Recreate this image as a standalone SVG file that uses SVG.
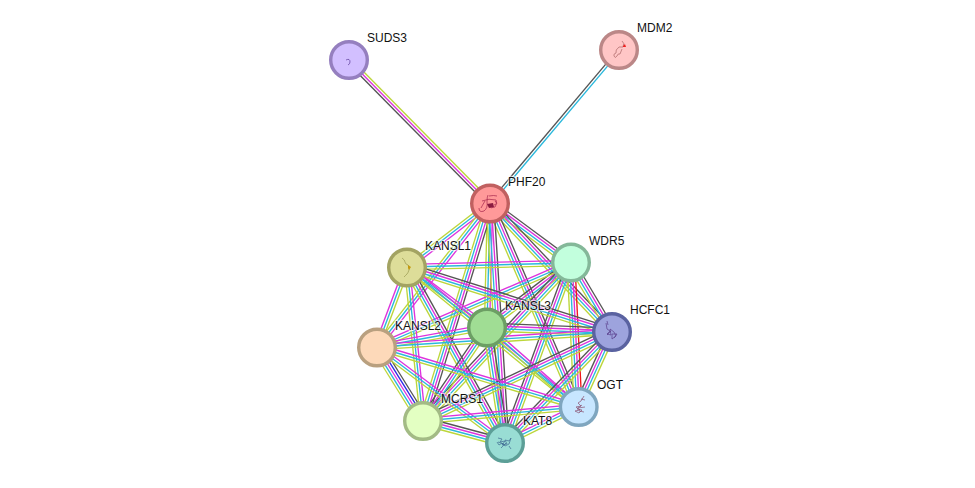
<svg xmlns="http://www.w3.org/2000/svg" xmlns:xlink="http://www.w3.org/1999/xlink" width="975" height="488" viewBox="0 0 975 488">
<style>
.k{stroke:#555}.m{stroke:#dd33dd}.c{stroke:#2ab8dc}.o{stroke:#bcd63a}.r{stroke:#f01818}.b{stroke:#2a2ae8}
line{stroke-width:1.35;fill:none}
circle{stroke-width:3.4}
text{font-family:"Liberation Sans",Arial,sans-serif;font-size:12px;fill:#111;stroke:#fff;stroke-width:2.5px;stroke-opacity:.6;paint-order:stroke;stroke-linejoin:round}
.g{fill:none;stroke-width:.7}
</style>
<defs>
<g id="a3"><line class="m" x1="0" y1="-2.6" x2="1" y2="-2.6"/><line class="c" x1="0" y1="0" x2="1" y2="0"/><line class="o" x1="0" y1="2.6" x2="1" y2="2.6"/></g>
<g id="a4"><line class="k" x1="0" y1="-3.9" x2="1" y2="-3.9"/><line class="m" x1="0" y1="-1.3" x2="1" y2="-1.3"/><line class="c" x1="0" y1="1.3" x2="1" y2="1.3"/><line class="o" x1="0" y1="3.9" x2="1" y2="3.9"/></g>
<g id="a5"><line class="k" x1="0" y1="-5.2" x2="1" y2="-5.2"/><line class="b" x1="0" y1="-2.6" x2="1" y2="-2.6"/><line class="m" x1="0" y1="0" x2="1" y2="0"/><line class="c" x1="0" y1="2.6" x2="1" y2="2.6"/><line class="o" x1="0" y1="5.2" x2="1" y2="5.2"/></g>
<g id="ar"><line class="r" x1="0" y1="-3.9" x2="1" y2="-3.9"/><line class="m" x1="0" y1="-1.3" x2="1" y2="-1.3"/><line class="c" x1="0" y1="1.3" x2="1" y2="1.3"/><line class="o" x1="0" y1="3.9" x2="1" y2="3.9"/></g>
<g id="ak"><line class="k" x1="0" y1="-2.6" x2="1" y2="-2.6"/><line class="m" x1="0" y1="0" x2="1" y2="0"/><line class="o" x1="0" y1="2.6" x2="1" y2="2.6"/></g>
<g id="ad"><line class="k" x1="0" y1="-1.3" x2="1" y2="-1.3"/><line class="c" x1="0" y1="1.3" x2="1" y2="1.3"/></g>
</defs>
<g id="connectors">
<use href="#ak" transform="matrix(-141 -143 .712 -.702 490 203.5)"/>
<use href="#ad" transform="matrix(129 -153 .765 .645 490 203.5)"/>
<use href="#a4" transform="matrix(81 60 -.595 .804 490 203.5)"/>
<use href="#a3" transform="matrix(-83 64 -.611 -.792 490 203.5)"/>
<use href="#a3" transform="matrix(-3 124 -1 -.024 490 203.5)"/>
<use href="#a4" transform="matrix(122 129 -.726 .687 490 203.5)"/>
<use href="#a3" transform="matrix(-113 144 -.787 -.617 490 203.5)"/>
<use href="#a4" transform="matrix(88 204 -.918 .396 490 203.5)"/>
<use href="#a4" transform="matrix(-67 218 -.956 -.294 490 203.5)"/>
<use href="#a4" transform="matrix(15 240 -.998 .062 490 203.5)"/>
<use href="#a3" transform="matrix(164 -4 .024 1 407 267)"/>
<use href="#a4" transform="matrix(84 -64 .606 .795 487 327)"/>
<use href="#a4" transform="matrix(41 69 -.859 .511 571 263)"/>
<use href="#a3" transform="matrix(194 -84 .397 .918 377 347)"/>
<use href="#ar" transform="matrix(7 144 -.999 .049 571 263)"/>
<use href="#a4" transform="matrix(148 -158 .73 .684 423 421)"/>
<use href="#a4" transform="matrix(66 -180 .939 .344 505 443)"/>
<use href="#a3" transform="matrix(80 60 -.6 .8 407 267)"/>
<use href="#a4" transform="matrix(205 65 -.302 .952 407 267)"/>
<use href="#a3" transform="matrix(30 -80 .937 .351 377 347)"/>
<use href="#a3" transform="matrix(171 140 -.633 .774 407 267)"/>
<use href="#a3" transform="matrix(16 154 -.995 .103 407 267)"/>
<use href="#a4" transform="matrix(98 176 -.874 .487 407 267)"/>
<use href="#a4" transform="matrix(125 5 -.04 .999 487 327)"/>
<use href="#a3" transform="matrix(110 -20 .179 .984 377 347)"/>
<use href="#a3" transform="matrix(91 80 -.66 .751 487 327)"/>
<use href="#a4" transform="matrix(64 -94 .827 .563 423 421)"/>
<use href="#a4" transform="matrix(18 116 -.988 .153 487 327)"/>
<use href="#a3" transform="matrix(235 -15 .064 .998 377 347)"/>
<use href="#a4" transform="matrix(34 -75 .911 .413 578 407)"/>
<use href="#a4" transform="matrix(189 -89 .426 .905 423 421)"/>
<use href="#a4" transform="matrix(107 -111 .72 .694 505 443)"/>
<use href="#a3" transform="matrix(201 60 -.286 .958 377 347)"/>
<use href="#a5" transform="matrix(46 74 -.85 .528 377 347)"/>
<use href="#a3" transform="matrix(128 96 -.6 .8 377 347)"/>
<use href="#a3" transform="matrix(155 -14 .09 .996 423 421)"/>
<use href="#a3" transform="matrix(73 -36 .442 .897 505 443)"/>
<use href="#a4" transform="matrix(82 22 -.259 .966 423 421)"/>
</g>
<g id="SUDS3"><circle cx="349" cy="60" r="18.3" fill="#d2bfff" stroke="#957fbf"/><path class="g" d="M346 60q4-2 4 2q0 2-2 3" stroke="#5a3a99"/><text x="367" y="42">SUDS3</text></g>
<g id="MDM2"><circle cx="619" cy="50" r="18.3" fill="#ffc6c6" stroke="#bb8787"/><path class="g" d="M622 41q3 2 1 6l-4 0q-4 3-3 6q-3 1-2 3q1 3 3 0q1-3 3-2l2-5" stroke="#a66"/><path d="M623 46l2-2 1 3-3 0z" fill="#e22"/><text x="637" y="32">MDM2</text></g>
<g id="PHF20"><circle cx="490" cy="203.5" r="18.3" fill="#ff9999" stroke="#c06060"/><path class="g" d="M479 208q0 5 5 3q4-3 3-9q0-5 1-7m-6 6q7-3 14-1q2 3-1 7q-4 2-6-1m6-5q3 3-1 4m-5-9q5-1 8 0m-12 5q-3 5-4 7" stroke="#a3224a"/><path d="M487 204l6-1 1 4-5 1z" fill="#8a1c40"/><text x="508" y="186">PHF20</text></g>
<g id="KANSL1"><circle cx="407" cy="267.5" r="18.3" fill="#dddd99" stroke="#a3a362"/><path class="g" d="M402 258q3 2 3 4t3 3q2 2 1 5t-2 4q-2 2-3 3" stroke="#9a9a50"/><path d="M408 265l3 2-2 3-1-2z" fill="#c49a10"/><text x="425" y="250">KANSL1</text></g>
<g id="WDR5"><circle cx="571" cy="262.5" r="18.3" fill="#c2ffdd" stroke="#84b899"/><text x="589" y="245">WDR5</text></g>
<g id="KANSL3"><circle cx="487" cy="327.5" r="18.3" fill="#a0dd94" stroke="#6c9f64"/><text x="505" y="310">KANSL3</text></g>
<g id="HCFC1"><circle cx="612" cy="332" r="18.3" fill="#9da3dd" stroke="#5a62a0"/><path class="g" d="M606 323l1 6 3 2-3 3 4 1-1-6 4 3 2 4-4 3 0-5 5 0-3 4m-7-17l1 4m3 6l-4 4" stroke="#5a3f8c"/><text x="630" y="314">HCFC1</text></g>
<g id="KANSL2"><circle cx="377" cy="347.5" r="18.3" fill="#fdd9b9" stroke="#b9a07f"/><text x="395" y="330">KANSL2</text></g>
<g id="OGT"><circle cx="578.7" cy="407" r="18.3" fill="#c7e6ff" stroke="#7fa6bf"/><path class="g" d="M584 396l-3 5-3 2 3 3-5 1 4 3-5 1 4 2 3-3-5-1 5-4m-1-6l4 1m-7 8l7-1m-6 4l5 1" stroke="#8a5070" stroke-width="1.3"/><text x="597" y="389">OGT</text></g>
<g id="MCRS1"><circle cx="423" cy="421" r="18.3" fill="#e3ffc2" stroke="#a3bb85"/><text x="441" y="403">MCRS1</text></g>
<g id="KAT8"><circle cx="505" cy="443" r="18.3" fill="#99ddd4" stroke="#5c9f97"/><path class="g" d="M498 438l4 1-2 3 5-1-3 4 5-1-2-4 4 1 2-3-2 6-4 2-3-3-3 2-2-3m12 4l2 3m-13-7l6 2m-3 4l5-5" stroke="#3f6a92" stroke-width="1.1"/><text x="523" y="425">KAT8</text></g>
</svg>
